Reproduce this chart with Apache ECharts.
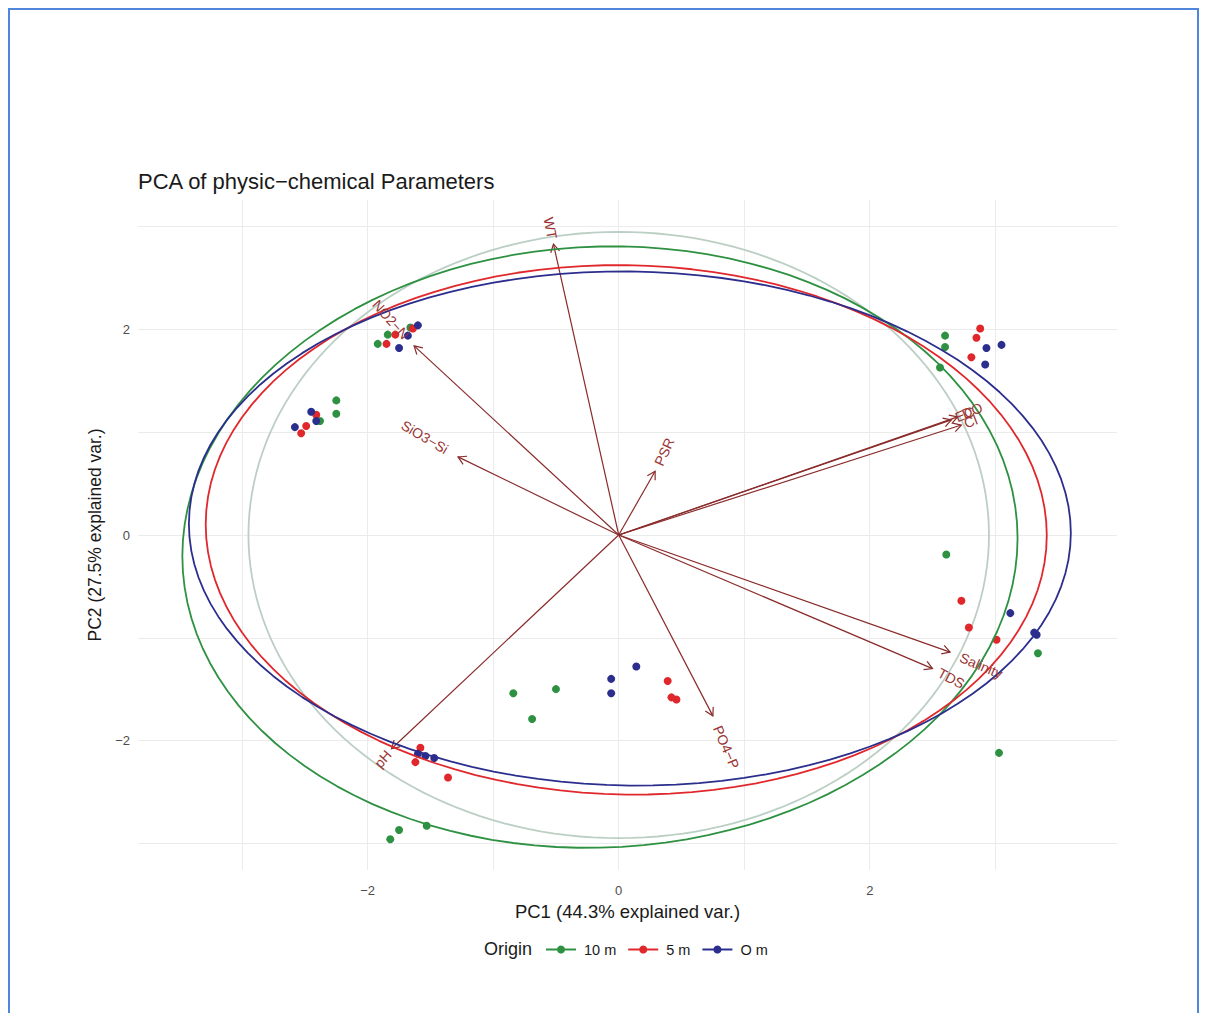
<!DOCTYPE html>
<html>
<head>
<meta charset="utf-8">
<script src="https://cdn.jsdelivr.net/npm/echarts@6/dist/echarts.min.js"></script>
<style>
  html, body { margin: 0; padding: 0; background: #ffffff; }
  #chart { position: absolute; left: 0; top: 0; width: 1205px; height: 1013px; }
  #frame { position: absolute; left: 8px; top: 8px; width: 1191px; height: 1030px;
           border: 2px solid #4F85DA; box-sizing: border-box; pointer-events: none; }
</style>
</head>
<body>
<div id="chart"></div>
<div id="frame"></div>
<script>
// ---- PCA scores per sampling depth (PC1, PC2) ----
const groupNames = ['10 m', '5 m', 'O m'];
const groupColors = ['#2E9142', '#E0282C', '#2B2E8C'];

const pc1_10m = [-1.92, -1.84, -1.66, -2.25, -2.25, -2.38, 2.60, 2.60, 2.56, 2.61, 3.34, 3.03, -0.84, -0.50, -0.69, -1.82, -1.75, -1.53];
const pc2_10m = [1.86, 1.95, 2.02, 1.31, 1.18, 1.11, 1.94, 1.83, 1.63, -0.19, -1.15, -2.12, -1.54, -1.50, -1.79, -2.96, -2.87, -2.83];

const pc1_5m = [-1.85, -1.78, -1.64, -2.41, -2.49, -2.53, 2.88, 2.85, 2.81, 2.73, 2.79, 3.01, 0.39, 0.42, 0.46, -1.58, -1.62, -1.36];
const pc2_5m = [1.86, 1.95, 2.01, 1.17, 1.06, 0.99, 2.01, 1.92, 1.73, -0.64, -0.90, -1.02, -1.42, -1.58, -1.60, -2.07, -2.21, -2.36];

const pc1_0m = [-1.60, -1.68, -1.75, -2.45, -2.41, -2.58, 2.93, 3.05, 2.92, 3.12, 3.33, 3.31, -0.06, -0.06, 0.14, -1.60, -1.54, -1.47];
const pc2_0m = [2.04, 1.94, 1.82, 1.20, 1.11, 1.05, 1.82, 1.85, 1.66, -0.76, -0.97, -0.95, -1.40, -1.54, -1.28, -2.13, -2.15, -2.17];

// ---- variable loadings (arrow tips) ----
const varNames = ['WT', 'NO2\u2212N', 'SiO3\u2212Si', 'PSR', 'DO', 'EC', 'Cl', 'Salinity', 'TDS', 'PO4\u2212P', 'pH'];
const varPC1 = [-0.52, -1.63, -1.28, 0.29, 2.70, 2.65, 2.73, 2.64, 2.50, 0.75, -1.81];
const varPC2 = [2.83, 1.84, 0.76, 0.62, 1.15, 1.12, 1.07, -1.14, -1.30, -1.76, -2.08];

// radius of the correlation circle
const circleRadius = 2.95;

// ---- axis ticks ----
const gridTicks = [-3, -2, -1, 0, 1, 2, 3];
const labelTicks = [-2, 0, 2];

const groupPC1 = [pc1_10m, pc1_5m, pc1_0m];
const groupPC2 = [pc2_10m, pc2_5m, pc2_0m];

const FONT = '"Liberation Sans", Arial, Helvetica, sans-serif';
const LABEL_SIZE = 14;

// normal-theory ellipse (68%) of one group's scores
function groupEllipse(xs, ys) {
  const n = xs.length;
  const mx = xs.reduce((a, b) => a + b, 0) / n;
  const my = ys.reduce((a, b) => a + b, 0) / n;
  let sxx = 0, syy = 0, sxy = 0;
  for (let i = 0; i < n; i++) {
    sxx += (xs[i] - mx) * (xs[i] - mx);
    syy += (ys[i] - my) * (ys[i] - my);
    sxy += (xs[i] - mx) * (ys[i] - my);
  }
  sxx /= (n - 1); syy /= (n - 1); sxy /= (n - 1);
  const a = Math.sqrt(sxx), b = sxy / a, c = Math.sqrt(syy - b * b);
  const ed = Math.sqrt(-2 * Math.log(1 - 0.68));
  const pts = [];
  const steps = 120;
  for (let i = 0; i <= steps; i++) {
    const t = -Math.PI + 2 * Math.PI * i / steps;
    pts.push([mx + ed * a * Math.cos(t), my + ed * (b * Math.cos(t) + c * Math.sin(t))]);
  }
  return pts;
}

const circlePts = [];
for (let i = 0; i <= 180; i++) {
  const t = 2 * Math.PI * i / 180;
  circlePts.push([circleRadius * Math.cos(t), circleRadius * Math.sin(t)]);
}

const measureCtx = document.createElement('canvas').getContext('2d');
measureCtx.font = LABEL_SIZE + 'px ' + FONT;

const minusFmt = v => (v < 0 ? '\u2212' + Math.abs(v) : String(v));

const series = [];

// group ellipses (listed first so the legend shows a line with a dot)
for (let g = 0; g < 3; g++) {
  series.push({
    type: 'line', name: groupNames[g], silent: true, z: 4,
    data: groupEllipse(groupPC1[g], groupPC2[g]),
    showSymbol: false, symbol: 'circle', symbolSize: 7,
    lineStyle: { color: groupColors[g], width: 1.8 },
    itemStyle: { color: groupColors[g] }
  });
}

series.push({
  type: 'line', name: 'circle', data: circlePts, showSymbol: false, symbol: 'none',
  lineStyle: { color: '#BCCFC4', width: 1.8 }, z: 1, silent: true
});

// arrows with open heads
series.push({
  type: 'custom', name: 'loadings', silent: true, z: 2,
  data: varPC1.map((x, i) => [x, varPC2[i], i]),
  renderItem: function (params, api) {
    const o = api.coord([0, 0]);
    const tip = api.coord([api.value(0), api.value(1)]);
    const ang = Math.atan2(tip[1] - o[1], tip[0] - o[0]);
    const L = 9, spread = Math.PI / 6;
    const h1 = [tip[0] - L * Math.cos(ang - spread), tip[1] - L * Math.sin(ang - spread)];
    const h2 = [tip[0] - L * Math.cos(ang + spread), tip[1] - L * Math.sin(ang + spread)];
    const st = { stroke: '#8A2B2B', lineWidth: 1.2, fill: null };
    return {
      type: 'group',
      children: [
        { type: 'line', shape: { x1: o[0], y1: o[1], x2: tip[0], y2: tip[1] }, style: st },
        { type: 'polyline', shape: { points: [h1, tip, h2] }, style: st }
      ]
    };
  }
});

// scores
for (let g = 0; g < 3; g++) {
  series.push({
    type: 'scatter', name: groupNames[g], silent: true, z: 3,
    data: groupPC1[g].map((x, i) => [x, groupPC2[g][i]]),
    symbol: 'circle', symbolSize: 8,
    itemStyle: { color: groupColors[g], opacity: 1 }
  });
}

// variable names
series.push({
  type: 'custom', name: 'varnames', silent: true, z: 5,
  data: varPC1.map((x, i) => [x, varPC2[i], i]),
  renderItem: function (params, api) {
    const x = api.value(0), y = api.value(1), idx = api.value(2);
    const tip = api.coord([x, y]);
    const name = varNames[idx];
    const w = measureCtx.measureText(name).width;
    const gap = 0.25 * w;
    const rot = Math.atan(y / x);
    const pos = x >= 0;
    return {
      type: 'text', x: tip[0], y: tip[1], rotation: rot,
      style: {
        text: name, x: pos ? gap : -gap, y: 0,
        align: pos ? 'left' : 'right', verticalAlign: 'middle',
        fill: '#9A3434', font: LABEL_SIZE + 'px ' + FONT
      }
    };
  }
});

const chart = echarts.init(document.getElementById('chart'), null, { renderer: 'svg' });
chart.setOption({
  animation: false,
  backgroundColor: '#ffffff',
  title: {
    text: 'PCA of physic\u2212chemical Parameters',
    left: 133, top: 165,
    textStyle: { fontFamily: FONT, fontSize: 22, fontWeight: 'normal', color: '#1A1A1A' }
  },
  grid: { left: 138, right: 88, top: 200, bottom: 143, containLabel: false },
  xAxis: {
    type: 'value', min: -3.83, max: 3.97,
    name: 'PC1 (44.3% explained var.)', nameLocation: 'middle', nameGap: 24,
    nameTextStyle: { fontFamily: FONT, fontSize: 18.5, color: '#1A1A1A' },
    axisLine: { show: false },
    axisTick: { show: false, customValues: gridTicks },
    axisLabel: { customValues: labelTicks, formatter: minusFmt, margin: 14,
                 fontFamily: FONT, fontSize: 13, color: '#4D4D4D' },
    splitLine: { show: true, lineStyle: { color: '#EBEBEB', width: 1 } }
  },
  yAxis: {
    type: 'value', min: -3.26, max: 3.26,
    name: 'PC2 (27.5% explained var.)', nameLocation: 'middle', nameGap: 32, nameRotate: 90,
    nameTextStyle: { fontFamily: FONT, fontSize: 17.5, color: '#1A1A1A' },
    axisLine: { show: false },
    axisTick: { show: false, customValues: gridTicks },
    axisLabel: { customValues: labelTicks, formatter: minusFmt, margin: 8,
                 fontFamily: FONT, fontSize: 13, color: '#4D4D4D' },
    splitLine: { show: true, lineStyle: { color: '#EBEBEB', width: 1 } }
  },
  legend: {
    data: groupNames, left: 540, top: 937, itemWidth: 30, itemHeight: 10, itemGap: 11,
    textStyle: { fontFamily: FONT, fontSize: 14.5, color: '#1A1A1A', padding: [0, 0, 0, 3] },
    selectedMode: false
  },
  graphic: [{
    type: 'text', left: 484, top: 940,
    style: { text: 'Origin', font: '18px ' + FONT, fill: '#1A1A1A' }
  }],
  series: series
});
</script>
</body>
</html>
